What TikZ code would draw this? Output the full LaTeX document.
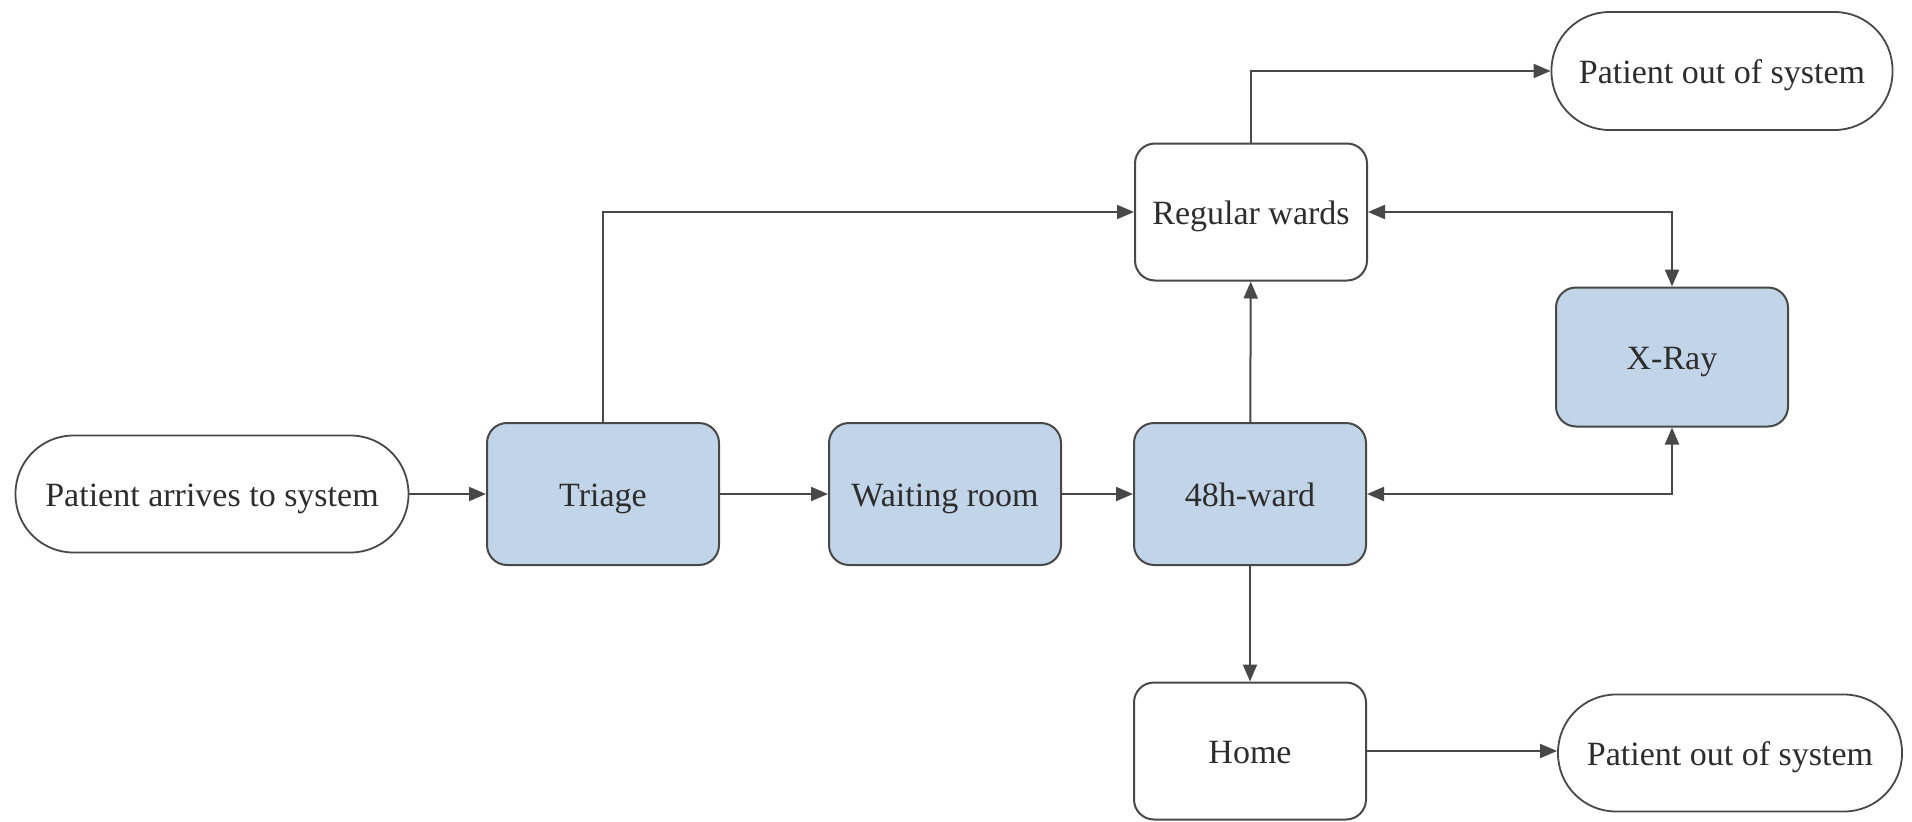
\documentclass[tikz,border=0pt]{standalone}
\usepackage{fontspec}
\setmainfont{Liberation Serif}
\usetikzlibrary{arrows.meta}
\definecolor{boxblue}{RGB}{194,213,232}
\definecolor{edgegray}{RGB}{72,72,72}
\definecolor{textgray}{RGB}{45,45,45}
\begin{document}
\begin{tikzpicture}[x=1pt,y=-1pt,
  every node/.style={font=\fontsize{34}{40}\selectfont, text=textgray, text height=27pt, text depth=2pt},
  box/.style={draw=edgegray, line width=2pt, rounded corners=20pt, minimum width=232pt, minimum height=139pt, inner sep=0pt},
  bluebox/.style={box, fill=boxblue},
  whitebox/.style={box, fill=white},
  term/.style={draw=edgegray, line width=1.8pt, rounded corners=58pt, minimum height=117pt, inner sep=0pt, fill=white},
  flow/.style={draw=edgegray, line width=2pt, -{Triangle[length=17pt,width=14pt]}},
  flowboth/.style={draw=edgegray, line width=2pt, {Triangle[length=17pt,width=14pt]}-{Triangle[length=17pt,width=14pt]}}
]
\useasboundingbox (0,0) rectangle (1912,822);
\node[term, minimum width=393pt] (arr) at (212,494) {Patient arrives to system};
\node[bluebox, minimum height=142pt] (tri) at (603,494) {Triage};
\node[bluebox, minimum height=142pt] (wait) at (945,494) {Waiting room};
\node[bluebox, minimum height=142pt] (w48) at (1250,494) {48h-ward};
\node[whitebox, minimum height=137pt] (reg) at (1251,212) {Regular wards};
\node[bluebox] (xray) at (1672,357) {X-Ray};
\node[whitebox, minimum height=137pt] (home) at (1250,751) {Home};
\node[term, minimum width=341pt, minimum height=118pt] (out1) at (1722,71) {Patient out of system};
\node[term, minimum width=344pt] (out2) at (1730,753) {Patient out of system};

\draw[flow] (arr) -- (tri);
\draw[flow] (tri) -- (wait);
\draw[flow] (wait) -- (w48);
\draw[flow] (tri.north) |- (reg.west);
\draw[flow] (w48) -- (reg);
\draw[flow] (reg.north) |- (out1.west);
\draw[flowboth] (reg.east) -| (xray.north);
\draw[flowboth] (w48.east) -| (xray.south);
\draw[flow] (w48) -- (home);
\draw[flow] (home.east) -- (home.east -| out2.west);
\end{tikzpicture}
\end{document}
